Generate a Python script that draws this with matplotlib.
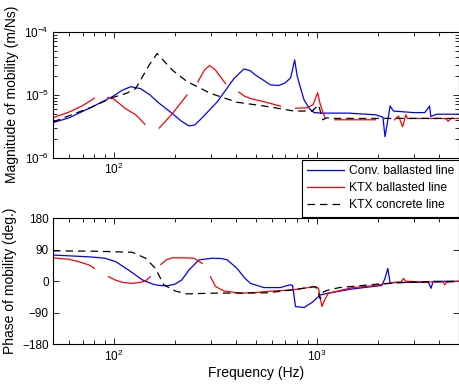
import numpy as np
import matplotlib
matplotlib.use("Agg")
import matplotlib.pyplot as plt
from matplotlib.ticker import LogLocator, FixedLocator, NullFormatter, FuncFormatter
from matplotlib.lines import Line2D

plt.rcParams['font.family'] = ['Liberation Sans', 'DejaVu Sans']
plt.rcParams['mathtext.fontset'] = 'custom'
plt.rcParams['mathtext.rm'] = 'Liberation Sans'
plt.rcParams['mathtext.it'] = 'Liberation Sans:italic'

nan = np.nan

# ---------------- Magnitude data ----------------
blue_mag_f = [50, 60, 78, 98, 110, 121, 135, 150, 167, 190, 215, 234, 250, 270, 323, 390, 437, 470,
              499, 592, 650, 700, 743, 778, 800, 815, 865, 920, 970, 1066, 1430, 1950, 2120, 2170,
              2300, 2390, 3000, 3410, 3600, 3650, 3900, 5000]
blue_mag_v = [3.6e-6, 4.3e-6, 6.4e-6, 9.3e-6, 1.18e-5, 1.34e-5, 1.25e-5, 1.0e-5, 7.3e-6, 5.3e-6,
              3.8e-6, 3.2e-6, 3.3e-6, 4.2e-6, 7.7e-6, 1.8e-5, 2.56e-5, 2.4e-5, 2.05e-5, 1.43e-5,
              1.4e-5, 1.55e-5, 1.85e-5, 3.56e-5, 2.0e-5, 1.6e-5, 8.3e-6, 6.0e-6, 5.2e-6, 5.1e-6,
              5.1e-6, 4.8e-6, 4.4e-6, 2.15e-6, 6.6e-6, 5.5e-6, 5.2e-6, 5.2e-6, 6.6e-6, 4.5e-6,
              4.9e-6, 4.9e-6]

red_mag_f = [50, 60, 70, 80, nan,
             93, 100, 114, 128, 142, nan,
             167, 194, 229, nan,
             259, 280, 296, 315, 355, nan,
             412, 440, 471, 560, 662, nan,
             785, 900, 960, 1010, 1040, 1100, nan,
             1230, 1950, nan,
             2420, 2530, 2650, 2750, 2800, 4300, 4450, 4600, 5000]
red_mag_v = [4.3e-6, 5.3e-6, 6.7e-6, 8.8e-6, nan,
             9.0e-6, 8.5e-6, 6.0e-6, 4.8e-6, 3.4e-6, nan,
             2.95e-6, 5.0e-6, 9.9e-6, nan,
             1.6e-5, 2.5e-5, 2.9e-5, 2.5e-5, 1.5e-5, nan,
             1.1e-5, 9.5e-6, 8.7e-6, 7.6e-6, 6.6e-6, nan,
             6.1e-6, 6.2e-6, 7.0e-6, 1.08e-5, 7.0e-6, 4.2e-6, nan,
             4.0e-6, 4.0e-6, nan,
             4.0e-6, 4.6e-6, 3.1e-6, 4.8e-6, 4.2e-6, 4.2e-6, 3.8e-6, 4.2e-6, 4.2e-6]

black_mag_f = [50, 78, 98, 115, 128, 149, 163, 194, 229, 299, 404, 570, 772, 950, 1020, 1070,
               1120, 1200, 5000]
black_mag_v = [3.7e-6, 6.4e-6, 9.0e-6, 1.05e-5, 1.26e-5, 2.95e-5, 4.5e-5, 2.45e-5, 1.62e-5,
               1.05e-5, 7.6e-6, 6.5e-6, 5.5e-6, 5.5e-6, 6.9e-6, 4.0e-6, 4.3e-6, 4.2e-6, 4.2e-6]

# ---------------- Phase data ----------------
blue_ph_f = [50, 75, 90, 102, 118, 138, 155, 167, 183, 200, 216, 234, 262, 305, 340, 362, 404,
             440, 471, 549, 661, 737, 760, 785, 865, 950, 1040, 1140, 1490, 2090, 2170, 2240,
             2300, 2500, 3550, 3660, 3750, 5000]
blue_ph_v = [75, 70, 66, 56, 32, 4, -8, -12, -13, -8, 4, 32, 61, 66, 65, 61, 37,
             10, -6, -18, -18, -10, -12, -72, -75, -60, -39, -34, -22, -12, 8, 37,
             -5, -3, -3, -20, 0, 0]

red_ph_f = [50, 60, 67, 75, 80, nan,
            94, 102, 110, 123, 135, 143, 151, nan,
            170, 182, 194, 221, 248, 272, nan,
            299, 317, 349, 420, 500, 600, 772, 985, 1020, 1060, 1100, 1140, 1500, 1910,
            2400, 2600, 2680, 2750, 3500, 4200, 4280, 4350, 5000]
red_ph_v = [67, 63, 56, 47, 37, nan,
            13, 3, -3, -6, -3, 1, 13, nan,
            48, 62, 67, 67, 66, 51, nan,
            13, -15, -28, -34, -32, -28, -24, -15, -20, -72, -50, -34, -18, -12.6,
            -3, -2, 8, 0, -2, -2, -10, -3, 0]

black_ph_f = [50, 80, 123, 143, 160, 176, 201, 229, 300, 567, 772, 970, 1000, 1040, 1080,
              1140, 1290, 2000, 3000, 5000]
black_ph_v = [87, 86, 83, 66, 37, -10, -28, -36, -34, -33, -24, -15, -20, -50, -30,
              -25, -18, -8, -2, 0]

labels = ['Conv. ballasted line', 'KTX ballasted line', 'KTX concrete line']

W, H = 459, 387
fig = plt.figure(figsize=(W / 100, H / 100), dpi=100)

def frac_box(l, t, r, b):
    return [l / W, 1 - b / H, (r - l) / W, (b - t) / H]

ax1 = fig.add_axes(frac_box(53, 31.7, 458.5, 157.7))
ax2 = fig.add_axes(frac_box(53, 218.3, 458.5, 344.3))

lw = 0.9
dash = (6, 4)
ax1.plot(blue_mag_f, blue_mag_v, color='#0000ff', lw=lw)
ax1.plot(red_mag_f, red_mag_v, color='#ff0000', lw=lw)
ax1.plot(black_mag_f, black_mag_v, color='black', lw=lw, dashes=dash)

ax2.plot(blue_ph_f, blue_ph_v, color='#0000ff', lw=lw)
ax2.plot(red_ph_f, red_ph_v, color='#ff0000', lw=lw)
ax2.plot(black_ph_f, black_ph_v, color='black', lw=lw, dashes=dash)

def sup_fmt(v, pos):
    e = int(round(np.log10(v)))
    return r'$\mathregular{10^{%d}}$' % e

for ax in (ax1, ax2):
    ax.set_xscale('log')
    ax.set_xlim(50, 5000)
    ax.xaxis.set_major_locator(FixedLocator([100, 1000]))
    ax.xaxis.set_minor_locator(LogLocator(base=10, subs=np.arange(2, 10), numticks=20))
    ax.xaxis.set_minor_formatter(NullFormatter())
    ax.xaxis.set_major_formatter(FuncFormatter(sup_fmt))
    ax.tick_params(which='both', direction='in', top=True, right=True, labelsize=8.5,
                   pad=3, width=0.6)
    ax.tick_params(which='major', length=4)
    ax.tick_params(which='minor', length=3)
    for s in ax.spines.values():
        s.set_linewidth(0.8)

ax1.set_yscale('log')
ax1.set_ylim(1e-6, 1e-4)
ax1.yaxis.set_major_locator(FixedLocator([1e-6, 1e-5, 1e-4]))
ax1.yaxis.set_minor_locator(LogLocator(base=10, subs=np.arange(2, 10), numticks=20))
ax1.yaxis.set_minor_formatter(NullFormatter())
ax1.yaxis.set_major_formatter(FuncFormatter(sup_fmt))
ax1.set_ylabel('Magnitude of mobility (m/Ns)', fontsize=10, labelpad=4)

ax2.set_ylim(-180, 180)
ax2.yaxis.set_major_locator(FixedLocator([-180, -90, 0, 90, 180]))
ax2.set_ylabel('Phase of mobility (deg.)', fontsize=10, labelpad=4)
ax2.set_xlabel('Frequency (Hz)', fontsize=10, labelpad=2)

handles = [Line2D([], [], color='#0000ff', lw=lw),
           Line2D([], [], color='#ff0000', lw=lw),
           Line2D([], [], color='black', lw=lw, dashes=dash)]
leg = fig.legend(handles, labels, loc='upper left', bbox_to_anchor=(302 / W, 1 - 160 / H),
                 borderaxespad=0, fontsize=8.7, handlelength=3.0, handletextpad=0.4,
                 labelspacing=0.4, borderpad=0.45, fancybox=False, framealpha=1,
                 edgecolor='black')
leg.get_frame().set_linewidth(0.8)

fig.savefig('out.png', dpi=100)
